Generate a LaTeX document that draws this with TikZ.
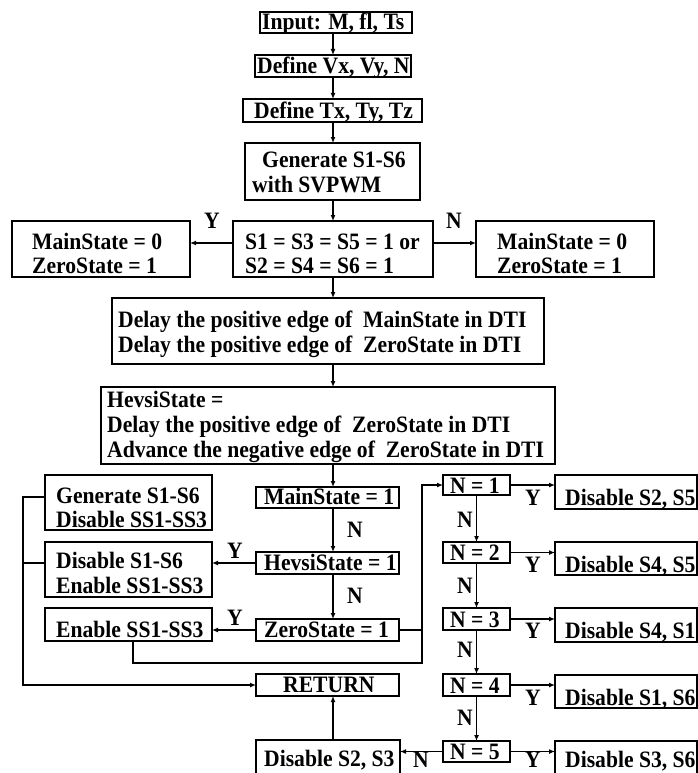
\documentclass[tikz,border=0pt]{standalone}
\usepackage{fontspec}
\setmainfont{Liberation Serif}[FakeStretch=0.92]
\usetikzlibrary{arrows.meta,calc}
\newcommand\mybox[5]{\node[box, minimum width={(#4-#2)*1pt}, minimum height={(#5-#3)*1pt}] (#1) at ({(#2+#4)/2},{(#3+#5)/2}) {};}
\newcommand\mytext[4]{\node[txt] (#1) at (#2,#3) {#4};}
\begin{document}
\begin{tikzpicture}[x=1pt,y=-1pt,
  box/.style={draw,line width=1.5pt,inner sep=0pt,outer sep=0pt},
  txt/.style={anchor=base west,inner sep=0pt,font=\fontsize{23.5}{25}\selectfont\bfseries},
  arr/.style={-{Latex[length=6pt,width=5pt]},line width=1.3pt},
  ln/.style={line width=1.3pt}]
\useasboundingbox (0,0) rectangle (698,773);
% boxes
\mybox{in}{260}{12}{412}{33}
\mybox{vx}{255}{55}{411}{77}
\mybox{tx}{243}{99}{422}{122}
\mybox{gen}{245}{143}{420}{200}
\mybox{left0}{12}{221}{190}{277}
\mybox{dec}{233}{221}{433}{277}
\mybox{right0}{476}{221}{654}{277}
\mybox{delay}{112}{298}{544}{364}
\mybox{hevsi}{101}{387}{555}{464}
\mybox{gss}{45}{475}{212}{530}
\mybox{dss}{45}{542}{212}{597}
\mybox{ess}{45}{608}{212}{641}
\mybox{ms1}{256}{487}{399}{508}
\mybox{hs1}{256}{552}{399}{574}
\mybox{zs1}{256}{619}{399}{641}
\mybox{ret}{256}{674}{399}{696}
\mybox{ds23}{256}{740}{400}{800}
\mybox{n1}{443}{475}{510}{495}
\mybox{n2}{443}{542}{510}{563}
\mybox{n3}{443}{608}{510}{630}
\mybox{n4}{443}{674}{510}{696}
\mybox{n5}{443}{741}{510}{762}
\mybox{r1}{555}{475}{697}{509}
\mybox{r2}{555}{542}{697}{575}
\mybox{r3}{555}{608}{697}{642}
\mybox{r4}{555}{675}{697}{708}
\mybox{r5}{555}{741}{697}{800}
% texts
\mytext{t1}{262}{30}{Input: M, fl, Ts}
\mytext{t2}{257}{74}{Define Vx, Vy, N}
\mytext{t3}{254}{118}{Define Tx, Ty, Tz}
\mytext{t4a}{262}{167}{Generate S1-S6}
\mytext{t4b}{252}{192}{with SVPWM}
\mytext{t5a}{32}{249}{MainState = 0}
\mytext{t5b}{32}{273}{ZeroState = 1}
\mytext{t6a}{245}{249}{S1 = S3 = S5 = 1 or}
\mytext{t6b}{245}{273}{S2 = S4 = S6 = 1}
\mytext{t7a}{497}{249}{MainState = 0}
\mytext{t7b}{497}{273}{ZeroState = 1}
\mytext{t8a}{118}{327}{Delay the positive edge of~ MainState in DTI}
\mytext{t8b}{118}{352}{Delay the positive edge of~ ZeroState in DTI}
\mytext{t9a}{107}{407}{HevsiState =}
\mytext{t9b}{107}{432}{Delay the positive edge of~ ZeroState in DTI}
\mytext{t9c}{107}{457}{Advance the negative edge of~ ZeroState in DTI}
\mytext{t10a}{56}{503}{Generate S1-S6}
\mytext{t10b}{56}{527}{Disable SS1-SS3}
\mytext{t11a}{56}{568}{Disable S1-S6}
\mytext{t11b}{56}{593}{Enable SS1-SS3}
\mytext{t12}{56}{637}{Enable SS1-SS3}
\mytext{t13}{264}{504}{MainState = 1}
\mytext{t14}{264}{570}{HevsiState = 1}
\mytext{t15}{264}{637}{ZeroState = 1}
\mytext{t16}{283}{692}{RETURN}
\mytext{t17}{264}{766}{Disable S2, S3}
\mytext{tn1}{450}{493}{N = 1}
\mytext{tn2}{450}{560}{N = 2}
\mytext{tn3}{450}{627}{N = 3}
\mytext{tn4}{450}{693}{N = 4}
\mytext{tn5}{450}{759}{N = 5}
\mytext{tr1}{565}{505}{Disable S2, S5}
\mytext{tr2}{565}{572}{Disable S4, S5}
\mytext{tr3}{565}{638}{Disable S4, S1}
\mytext{tr4}{565}{705}{Disable S1, S6}
\mytext{tr5}{565}{767}{Disable S3, S6}
% labels
\mytext{l1}{204}{228}{Y}
\mytext{l2}{446}{228}{N}
\mytext{l3}{347}{537}{N}
\mytext{l4}{347}{603}{N}
\mytext{l5}{227}{558}{Y}
\mytext{l6}{227}{625}{Y}
\mytext{l7}{457}{527}{N}
\mytext{l8}{457}{593}{N}
\mytext{l9}{457}{657}{N}
\mytext{l10}{457}{725}{N}
\mytext{l11}{525}{505}{Y}
\mytext{l12}{525}{572}{Y}
\mytext{l13}{525}{638}{Y}
\mytext{l14}{525}{705}{Y}
\mytext{l15}{525}{767}{Y}
\mytext{l16}{413}{767}{N}
% connectors
\coordinate (ax) at (333,0);
\coordinate (bus) at (422,663);
\coordinate (lb) at (23,685);
\draw[arr] (in.south -| ax) -- (vx.north -| ax);
\draw[arr] (vx.south -| ax) -- (tx.north -| ax);
\draw[arr] (tx.south -| ax) -- (gen.north -| ax);
\draw[arr] (gen.south -| ax) -- (dec.north -| ax);
\draw[arr] ([yshift=6pt]dec.west) -- ([yshift=6pt]left0.east);
\draw[arr] ([yshift=6pt]dec.east) -- ([yshift=6pt]right0.west);
\draw[arr] (dec.south -| ax) -- (delay.north -| ax);
\draw[arr] (delay.south -| ax) -- (hevsi.north -| ax);
\draw[arr] (hevsi.south -| ax) -- (ms1.north -| ax);
\draw[arr] (ms1.south -| ax) -- (hs1.north -| ax);
\draw[arr] (hs1.south -| ax) -- (zs1.north -| ax);
\draw[arr] (hs1.west) -- (hs1.west -| dss.east);
\draw[arr] (zs1.west) -- (zs1.west -| ess.east);
\draw[ln] (zs1.east) -- (zs1.east -| bus);
\draw[arr] ([xshift=4.5pt]ess.south) |- (bus) |- (n1.west);
\draw[arr] ([yshift=5.5pt]gss.west) -| (lb) -- (ret.west);
\draw[ln] (hs1.west -| dss.west) -- (hs1.west -| lb);
\draw[arr] (n1.south) -- (n2.north);
\draw[arr] (n2.south) -- (n3.north);
\draw[arr] (n3.south) -- (n4.north);
\draw[arr] (n4.south) -- (n5.north);
\draw[arr] (n1.east) -- (n1.east -| r1.west);
\draw[arr] (n2.east) -- (n2.east -| r2.west);
\draw[arr] (n3.east) -- (n3.east -| r3.west);
\draw[arr] (n4.east) -- (n4.east -| r4.west);
\draw[arr] (n5.east) -- (n5.east -| r5.west);
\draw[arr] (n5.west) -- (n5.west -| ds23.east);
\draw[arr] (ds23.north -| ax) -- (ret.south -| ax);
\end{tikzpicture}
\end{document}
